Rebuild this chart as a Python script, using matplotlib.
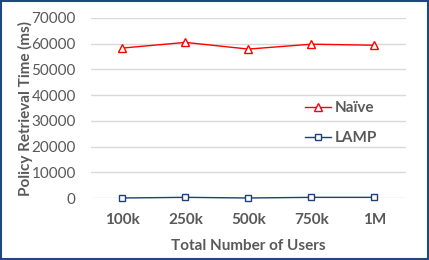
import matplotlib.pyplot as plt
from matplotlib.patches import Rectangle

plt.rcParams['font.family'] = ['Lato', 'DejaVu Sans']

users = ['100k', '250k', '500k', '750k', '1M']
naive = [58300, 60500, 57900, 59800, 59400]
lamp = [50, 300, 50, 300, 300]

fig = plt.figure(figsize=(4.29, 2.6), dpi=100)
ax = fig.add_axes([0.212, 0.238, 0.734, 0.693])

x = list(range(len(users)))
ax.plot(x, naive, color='#FF0000', lw=1.0, marker='^', ms=5.5,
        mfc='white', mec='#FF0000', mew=1.0, label='Naïve', clip_on=False)
ax.plot(x, lamp, color='#1F3F7A', lw=1.0, marker='s', ms=5,
        mfc='white', mec='#1F3F7A', mew=1.0, label='LAMP', clip_on=False)

ax.set_xlim(-0.5, len(users) - 0.5)
ax.set_ylim(0, 70000)
ax.set_yticks(range(0, 70001, 10000))
ax.set_xticks(x)
ax.set_xticklabels(users, fontweight='bold')
ax.grid(axis='y', color='#D9D9D9', lw=1.0)
ax.set_axisbelow(True)
for s in ax.spines.values():
    s.set_visible(False)
ax.tick_params(length=0, labelsize=11, labelcolor='#595959')
ax.tick_params(axis='x', pad=11)
ax.tick_params(axis='y', pad=11)

ax.set_xlabel('Total Number of Users', fontsize=11, fontweight='bold',
              color='#595959', labelpad=8)
ax.set_ylabel('Policy Retrieval Time (ms)', fontsize=11, fontweight='bold',
              color='#595959', labelpad=-1)

leg = ax.legend(loc='center left', bbox_to_anchor=(0.68, 0.417), frameon=False,
                labelspacing=1.05, handlelength=1.7, handletextpad=0.25,
                borderpad=0, borderaxespad=0,
                prop={'weight': 'bold', 'size': 11})
for t in leg.get_texts():
    t.set_color('#595959')

fig.patches.append(Rectangle((0.002, 0.004), 0.995, 0.992, transform=fig.transFigure,
                             fill=False, edgecolor='#1F497D', lw=1.5))

fig.savefig('out.png', dpi=100)
